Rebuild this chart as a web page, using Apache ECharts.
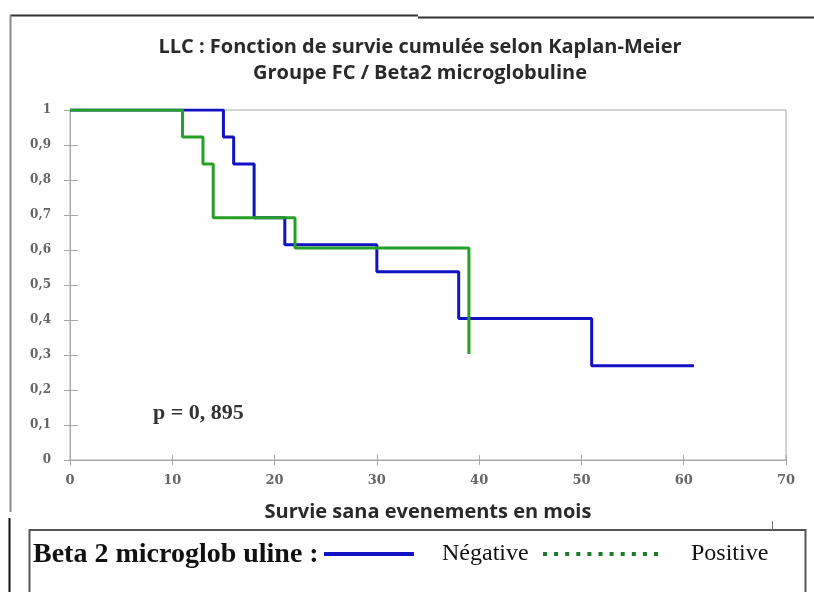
<!DOCTYPE html>
<html>
<head>
<meta charset="utf-8">
<script src="https://cdn.jsdelivr.net/npm/echarts@6/dist/echarts.min.js"></script>
<style>
  html, body { margin: 0; padding: 0; background: #fff; }
  #chart { width: 814px; height: 592px; }
</style>
</head>
<body>
<div id="chart"></div>
<script>
// Kaplan-Meier event times (months) and survival estimates after each event
const negTimes = [0, 15, 16, 18, 21, 30, 38, 51, 61];
const negSurvival = [1, 0.923, 0.846, 0.692, 0.615, 0.538, 0.404, 0.269, 0.269];
const posTimes = [0, 11, 13, 14, 22, 39];
const posSurvival = [1, 0.923, 0.846, 0.692, 0.606, 0.303];

const xTicks = { min: 0, max: 70, step: 10 };
const yTicks = { min: 0, max: 1, step: 0.1 };

const titleLines = ['LLC : Fonction de survie cumulée selon Kaplan-Meier', 'Groupe FC / Beta2 microglobuline'];
const xTitle = 'Survie sana evenements en mois';
const legendLabel = 'Beta 2 microglob uline :';
const groupNames = ['Négative', 'Positive'];
const pValueText = 'p = 0, 895';

const BLUE = '#1212c4';
const GREEN = '#24a024';
const AXIS = '#a8a8a8';
const TICK_FONT = { fontFamily: 'DejaVu Serif', fontWeight: 'bold', color: '#666' };

const pairs = (xs, ys) => xs.map((x, i) => [x, ys[i]]);

// dotted legend key: a row of small squares
const dots = Array.from({ length: 11 }, (_, i) => `M${i * 11.1},0h4v4h-4z`).join(' ');

const chart = echarts.init(document.getElementById('chart'), null, { renderer: 'canvas' });

chart.setOption({
  backgroundColor: '#fff',
  animation: false,
  title: {
    text: titleLines.join('\n'),
    left: 415, top: 29, textAlign: 'center',
    textStyle: { fontFamily: 'Open Sans', fontWeight: 'bold', fontSize: 20, lineHeight: 26, color: '#2a2a2a' }
  },
  grid: {
    left: 70, top: 110, width: 716, height: 350,
    show: true, borderColor: AXIS, borderWidth: 1, backgroundColor: 'transparent'
  },
  xAxis: [{
    type: 'value', min: xTicks.min, max: xTicks.max, interval: xTicks.step,
    axisLine: { lineStyle: { color: AXIS, width: 1 } },
    axisTick: { show: true, length: 5, lineStyle: { color: AXIS } },
    splitLine: { show: false },
    axisLabel: Object.assign({ fontSize: 13, margin: 14 }, TICK_FONT),
    name: xTitle, nameLocation: 'middle', nameGap: 42,
    nameTextStyle: { fontFamily: 'Open Sans', fontWeight: 'bold', fontSize: 20, color: '#2a2a2a' }
  }, {
    type: 'value', min: xTicks.min, max: xTicks.max, interval: xTicks.step, position: 'bottom',
    axisLine: { show: false },
    axisTick: { show: true, inside: true, length: 5, lineStyle: { color: AXIS } },
    axisLabel: { show: false }, splitLine: { show: false }
  }],
  yAxis: [{
    type: 'value', min: yTicks.min, max: yTicks.max, interval: yTicks.step,
    axisLine: { show: true, lineStyle: { color: AXIS, width: 1 } },
    axisTick: { show: true, length: 6, lineStyle: { color: AXIS } },
    splitLine: { show: false },
    axisLabel: Object.assign({
      fontSize: 12, margin: 19,
      formatter: v => String(Math.round(v * 10) / 10).replace('.', ',')
    }, TICK_FONT)
  }, {
    type: 'value', min: yTicks.min, max: yTicks.max, interval: yTicks.step, position: 'left',
    axisLine: { show: false },
    axisTick: { show: true, inside: true, length: 8, lineStyle: { color: AXIS } },
    axisLabel: { show: false }, splitLine: { show: false }
  }],
  legend: [{
    data: [groupNames[0]], left: 324, top: 542, padding: 0,
    itemWidth: 90, itemHeight: 4, icon: 'rect',
    itemStyle: { color: BLUE },
    textStyle: { fontFamily: 'Liberation Serif', fontSize: 24, color: '#111', padding: [0, 0, 0, 23] }
  }, {
    data: [groupNames[1]], left: 543, top: 542, padding: 0,
    itemWidth: 115, itemHeight: 4, icon: 'path://' + dots,
    itemStyle: { color: '#1d7a2a' },
    textStyle: { fontFamily: 'Liberation Serif', fontSize: 24, color: '#111', padding: [0, 0, 0, 28] }
  }],
  series: [{
    name: groupNames[0], type: 'line', step: 'end', symbol: 'none',
    data: pairs(negTimes, negSurvival),
    lineStyle: { color: BLUE, width: 3 }, itemStyle: { color: BLUE }, z: 3
  }, {
    name: groupNames[1], type: 'line', step: 'end', symbol: 'none',
    data: pairs(posTimes, posSurvival),
    lineStyle: { color: GREEN, width: 3 }, itemStyle: { color: GREEN }, z: 4
  }],
  graphic: [
    // outer frame of the figure
    { type: 'line', shape: { x1: 10, y1: 15.5, x2: 418, y2: 15.5 }, style: { stroke: '#333', lineWidth: 2 } },
    { type: 'line', shape: { x1: 418, y1: 17.5, x2: 814, y2: 17.5 }, style: { stroke: '#333', lineWidth: 2 } },
    { type: 'line', shape: { x1: 10.5, y1: 15, x2: 10.5, y2: 512 }, style: { stroke: '#8a8a8a', lineWidth: 2 } },
    { type: 'line', shape: { x1: 9.5, y1: 518, x2: 9.5, y2: 592 }, style: { stroke: '#111', lineWidth: 2 } },
    // legend box
    { type: 'rect', shape: { x: 29.5, y: 530, width: 776, height: 80 }, style: { fill: '#fff', stroke: '#555', lineWidth: 2 }, z: -1 },
    { type: 'line', shape: { x1: 772.5, y1: 521, x2: 772.5, y2: 530 }, style: { stroke: '#777', lineWidth: 1 } },
    {
      type: 'text', x: 33, y: 555,
      style: { text: legendLabel, fontFamily: 'Liberation Serif', fontWeight: 'bold', fontSize: 28, fill: '#111', verticalAlign: 'middle' }
    },
    {
      type: 'text', x: 153, y: 413,
      style: { text: pValueText, fontFamily: 'Liberation Serif', fontWeight: 'bold', fontSize: 22, fill: '#333', verticalAlign: 'middle' }
    }
  ]
});
</script>
</body>
</html>
